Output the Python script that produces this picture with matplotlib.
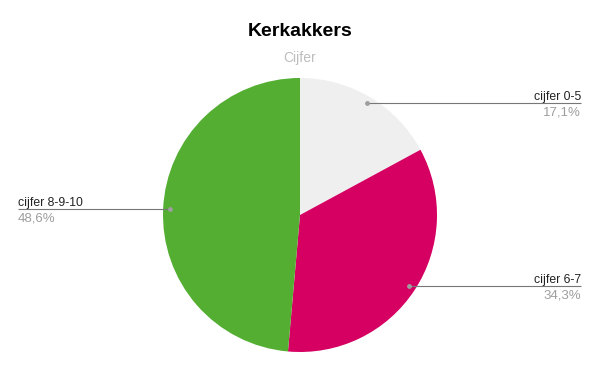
import numpy as np
import matplotlib.pyplot as plt

plt.rcParams['font.family'] = ['Liberation Sans', 'DejaVu Sans']

# data
labels = ['cijfer 0-5', 'cijfer 6-7', 'cijfer 8-9-10']
percentages = [17.1, 34.3, 48.6]
kleuren = ['#efefef', '#d50062', '#53ae32']

W, H = 600, 371
fig = plt.figure(figsize=(W / 100, H / 100), dpi=100)
ax = fig.add_axes([0, 0, 1, 1])

# pie in pixel-like coordinates (y measured from the bottom)
cx, cy, r = 300, H - 215, 137
wedges, _ = ax.pie(percentages, colors=kleuren, startangle=90, counterclock=False,
                   center=(cx, cy), radius=r, wedgeprops=dict(linewidth=0))
ax.set_xlim(0, W)
ax.set_ylim(0, H)
ax.set_aspect('equal')
ax.axis('off')

# leader lines + labels
for w, lab, p in zip(wedges, labels, percentages):
    hoek = np.deg2rad((w.theta1 + w.theta2) / 2)
    px = cx + 0.95 * r * np.cos(hoek)
    py = cy + 0.95 * r * np.sin(hoek)
    if np.cos(hoek) >= 0:
        x_end, ha = 581, 'right'
    else:
        x_end, ha = 18, 'left'
    ax.plot([px, x_end], [py, py], color='#777777', lw=0.8, solid_capstyle='butt')
    ax.plot(px, py, 'o', ms=3.5, color='#9e9e9e', mec='none')
    ax.text(x_end, py + 3, lab, ha=ha, va='baseline', fontsize=8.8, color='#222222')
    ax.text(x_end, py - 3.5, f'{p:.1f}'.replace('.', ',') + '%', ha=ha, va='top',
            fontsize=9.5, color='#9e9e9e')

ax.text(W / 2, H - 31, 'Kerkakkers', ha='center', va='center', fontsize=14,
        fontweight='bold', color='#000000')
ax.text(W / 2, H - 58, 'Cijfer', ha='center', va='center', fontsize=10, color='#bdbdbd')

fig.savefig('out.png', dpi=100)
